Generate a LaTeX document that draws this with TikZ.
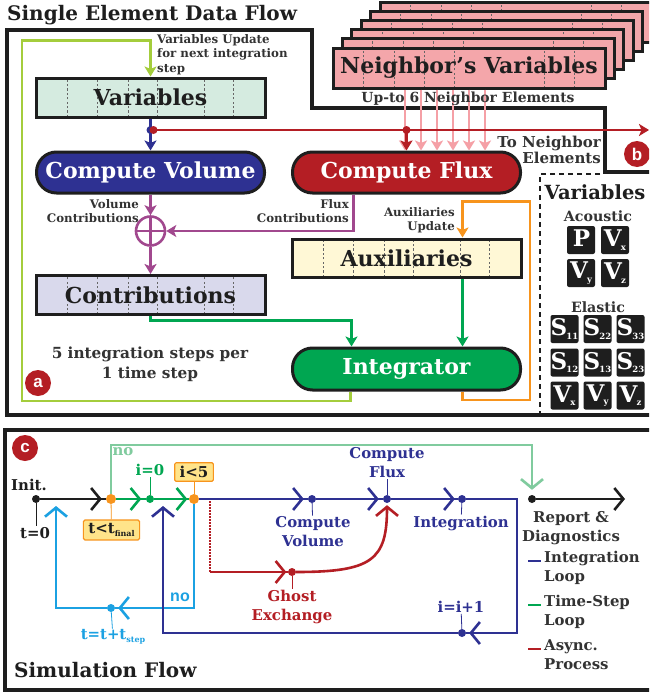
\documentclass[tikz,border=0pt]{standalone}
\usepackage{fontspec}
\setmainfont{DejaVu Serif}
\setsansfont{Liberation Sans}
\usepackage{tikz}
\usetikzlibrary{shapes,arrows,positioning,calc,decorations.markings,arrows.meta}

\definecolor{framegray}{HTML}{1E1E1E}
\definecolor{labelgray}{HTML}{333333}
\definecolor{volblue}{HTML}{2E3192}
\definecolor{fluxred}{HTML}{B41E24}
\definecolor{intgreen}{HTML}{00A651}
\definecolor{limegreen}{HTML}{A4CD3C}
\definecolor{auxorange}{HTML}{F7941D}
\definecolor{sumpurple}{HTML}{A1488E}
\definecolor{nbrpink}{HTML}{F4A6AA}
\definecolor{arrowpink}{HTML}{F5A0A6}
\definecolor{varfill}{HTML}{D5EBE0}
\definecolor{confill}{HTML}{D9D9EC}
\definecolor{auxfill}{HTML}{FFF8D6}
\definecolor{stepblue}{HTML}{1BA1E2}
\definecolor{nogreen}{HTML}{80CB9E}
\definecolor{testfill}{HTML}{FFE48A}

\newcommand{\varsym}[2]{{\fontsize{23}{23}\selectfont #1}\kern-0.8pt\raisebox{-3.5pt}{\fontsize{8.5}{8.5}\selectfont #2}}
\newcommand{\subtxt}[1]{\raisebox{-2.5pt}{\fontsize{8}{8}\selectfont #1}}

\tikzset{
  panelframe/.style={draw=framegray, line width=3.8pt},
  dividers/.style={path picture={\foreach \d in {#1}
      \draw[black!60, line width=0.6pt, dash pattern=on 2.2pt off 2.2pt]
        ([xshift=\d pt]path picture bounding box.south west) -- ([xshift=\d pt]path picture bounding box.north west);}},
  databox/.style={draw=framegray, line width=3pt, minimum width=229pt, minimum height=39pt, inner sep=0pt,
    text=framegray, font=\bfseries\fontsize{22}{22}\selectfont, dividers={31,61,92,121,168,197}},
  procbox/.style={draw=framegray, line width=3pt, rounded corners=20pt, minimum width=228pt, minimum height=41pt,
    inner sep=0pt, text=white, font=\bfseries\fontsize{22}{22}\selectfont},
  nbrbox/.style={databox, minimum width=272pt, minimum height=40pt, fill=nbrpink, dividers={30,61,91,121,211,241}},
  conn/.style={line width=2.6pt, -{Stealth[length=10pt,width=12pt,inset=2.5pt]}},
  sumnode/.style={circle, draw=sumpurple, line width=2.6pt, minimum size=29pt, inner sep=0pt,
    path picture={\draw[sumpurple, line width=2.6pt]
      (path picture bounding box.north) -- (path picture bounding box.south)
      (path picture bounding box.west) -- (path picture bounding box.east);}},
  smalltext/.style={font=\bfseries\fontsize{11.8}{14.5}\selectfont, text=labelgray, inner sep=0pt},
  badge/.style={circle, fill=fluxred, text=white, minimum size=26pt, inner sep=0pt, font=\sffamily\bfseries\fontsize{17}{17}\selectfont},
  varsq/.style={fill=framegray, rounded corners=2pt, minimum size=28pt, inner sep=0pt, text=white, font=\bfseries},
  heading/.style={font=\bfseries\fontsize{20}{20}\selectfont, text=framegray, inner sep=0pt},
  flow/.style={line width=2.6pt},
  chev/.style={decoration={markings, mark=at position -#1 with {\arrow{Straight Barb[length=9pt,width=22pt,line width=2.6pt]}}}, postaction={decorate}},
  barb/.style={-{Straight Barb[length=9pt,width=22pt,line width=2.6pt]}},
  flowdot/.style={circle, fill=#1, inner sep=0pt, minimum size=8pt},
  bigdot/.style={circle, fill=#1, inner sep=0pt, minimum size=10pt},
  labeltick/.style={line width=0.8pt},
  lbl/.style={font=\bfseries\fontsize{14.9}{19}\selectfont, align=center, inner sep=1pt},
  testbox/.style={draw=auxorange, fill=testfill, line width=1.2pt, rounded corners=1.5pt, inner xsep=5pt, inner ysep=3.5pt,
    font=\bfseries\fontsize{15}{15}\selectfont, text=framegray},
}

\begin{document}
\begin{tikzpicture}[x=1pt, y=-1pt]
  \useasboundingbox (0,0) rectangle (649,696);
  \clip (0,0) rectangle (649,696);
  \fill[white] (0,0) rectangle (649,696);

  % Single element data flow
  \node[heading, anchor=west] (title) at (7,15) {Single Element Data Flow};
  \draw[panelframe] (660,172) -- (605,172) -- (605,108) -- (312,108) -- (312,30) -- (7,30) -- (7,415) -- (660,415);

  % Neighbor stack
  \foreach \k in {5,4,...,1}
    \node[nbrbox] at (469+9.4*\k, 68-9.2*\k) {};
  \node[nbrbox] (nbr) at (469,68) {Neighbor's Variables};

  \node[databox, fill=varfill] (var) at (150.5,97.5) {Variables};
  \node[procbox, fill=volblue] (cvol) at (150.5,172.5) {Compute Volume};
  \node[procbox, fill=fluxred] (cflux) at (406.5,172.5) {Compute Flux};
  \node[sumnode] (sum) at (150.5,231) {};
  \node[databox, fill=confill] (contr) at (150.5,295) {Contributions};
  \node[databox, fill=auxfill, minimum height=38pt] (aux) at (406.5,258) {Auxiliaries};
  \node[procbox, fill=intgreen, minimum height=42pt] (integ) at (406.5,369) {Integrator};

  % neighbor inputs
  \foreach \x in {405,421,437,453,469,485}
    \draw[conn, arrowpink] (\x,0 |- nbr.south) -- (\x,0 |- cflux.north);
  \node[smalltext, font=\bfseries\fontsize{13.9}{14}\selectfont] (upto) at (468,99) {Up-to 6 Neighbor Elements};

  % split to volume and flux
  \coordinate (split) at (var.south |- 0,130);
  \coordinate (fluxtap) at (cflux.north |- split);
  \coordinate (toneighbor) at (649,130);
  \draw[conn, volblue] (var.south) -- (cvol.north);
  \fill[volblue] (split) circle (4pt);
  \draw[conn, fluxred] ([xshift=3pt]split) -- (toneighbor);
  \fill[fluxred] ([xshift=3pt]split) circle (4pt);
  \fill[fluxred] (fluxtap) circle (4pt);
  \draw[conn, fluxred] (fluxtap) -- (cflux.north);
  \node[smalltext, font=\bfseries\fontsize{15}{16.5}\selectfont, align=right, anchor=east] (tonb) at (601,150) {To Neighbor\\Elements};
  \node[badge] (bdg-b) at (637,154) {b};

  % contributions
  \draw[conn, sumpurple] (cvol.south) -- (sum.north);
  \draw[conn, sumpurple] (sum.south) -- (contr.north);
  \draw[conn, sumpurple] ([xshift=-53pt]cflux.south) |- (sum.east);
  \node[smalltext, align=right, anchor=east] (volc) at (139,211) {Volume\\Contributions};
  \node[smalltext, align=right, anchor=east] (fluxc) at (349,211) {Flux\\Contributions};

  % integration loop
  \draw[conn, limegreen] ([xshift=-56pt]integ.south) |- (22,401) |- ([yshift=36pt]var.north) -- (var.north);
  \node[smalltext, align=left, anchor=north west] (varupd) at (157,34) {Variables Update\\for next integration\\step};
  \draw[conn, auxorange] ([xshift=56pt]integ.south) |- (530,400) |- ([xshift=56pt,yshift=36pt]aux.north) -- ([xshift=56pt]aux.north);
  \node[smalltext, align=right, anchor=east] (auxupd) at (455,220) {Auxiliaries\\Update};
  \draw[conn, intgreen] (contr.south) |- ([xshift=-55pt,yshift=26pt]integ.north) -- ([xshift=-55pt]integ.north);
  \draw[conn, intgreen] ([xshift=56pt]aux.south) -- ([xshift=56pt]integ.north);

  \node[smalltext, font=\bfseries\fontsize{15.3}{20}\selectfont, align=center] (steps) at (150,364) {5 integration steps per\\1 time step};
  \node[badge] (bdg-a) at (38,383) {a};

  % Variables legend
  \draw[line width=1.6pt, dash pattern=on 5pt off 4pt, framegray] (600,174) -- (540,174) -- (540,415);
  \node[heading, font=\bfseries\fontsize{19.5}{19.5}\selectfont] (varhd) at (595,192) {Variables};
  \node[smalltext, font=\bfseries\fontsize{14.2}{14}\selectfont] (acou) at (598,216) {Acoustic};
  \node[varsq] (sq-p) at (581,240) {\varsym{P}{}};
  \node[varsq] (sq-vx) at (615,240) {\varsym{V}{x}};
  \node[varsq] (sq-vy) at (581,273) {\varsym{V}{y}};
  \node[varsq] (sq-vz) at (615,273) {\varsym{V}{z}};
  \node[smalltext, font=\bfseries\fontsize{14.2}{14}\selectfont] (elas) at (598,307) {Elastic};
  \node[varsq] (sq-s11) at (564.5,329) {\varsym{S}{11}};
  \node[varsq] (sq-s22) at (597.5,329) {\varsym{S}{22}};
  \node[varsq] (sq-s33) at (630.5,329) {\varsym{S}{33}};
  \node[varsq] (sq-s12) at (564.5,362.5) {\varsym{S}{12}};
  \node[varsq] (sq-s13) at (597.5,362.5) {\varsym{S}{13}};
  \node[varsq] (sq-s23) at (630.5,362.5) {\varsym{S}{23}};
  \node[varsq] (sq-ex) at (564.5,395.5) {\varsym{V}{x}};
  \node[varsq] (sq-ey) at (597.5,395.5) {\varsym{V}{y}};
  \node[varsq] (sq-ez) at (630.5,395.5) {\varsym{V}{z}};

  % Simulation flow
  \draw[panelframe] (5,430) rectangle (670,690);
  \node[badge] (bdg-c) at (25,448) {c};
  \node[heading, anchor=west] (simflow) at (14,670) {Simulation Flow};

  \node[flowdot=framegray] (init) at (36,499) {};
  \node[bigdot=auxorange] (tfin) at (111,499) {};
  \node[flowdot=intgreen] (izero) at (150,499) {};
  \node[bigdot=auxorange] (ilt) at (194,499) {};
  \node[flowdot=volblue] (vdot) at (312,499) {};
  \node[flowdot=volblue] (fdot) at (387,499) {};
  \node[flowdot=volblue] (idot) at (462,499) {};
  \node[flowdot=volblue] (incdot) at (462,633) {};
  \node[flowdot=stepblue] (tdot) at (111,608) {};
  \node[flowdot=fluxred] (gdot) at (292,572) {};
  \node[flowdot=framegray] (report) at (532,499) {};
  \coordinate (asyncstart) at (210,501);
  \coordinate (reportend) at (625,499);

  % time step loop
  \draw[flow, framegray, chev=4pt] (init) -- (tfin);
  \draw[flow, intgreen, chev=4.5pt] (tfin) -- (izero);
  \draw[flow, intgreen, chev=1.5pt] (izero) -- (ilt);
  \draw[flow, nogreen, barb] (tfin) |- (532,445) -- ([yshift=5pt]report.north);
  \draw[flow, framegray, barb] (report) -- (reportend);
  \draw[flow, stepblue, chev=3pt] (ilt) |- (tdot);
  \draw[flow, stepblue, barb] (tdot) -| (56,506);

  % integration loop
  \draw[flow, volblue, chev=4pt] (ilt) -- (vdot);
  \draw[flow, volblue, chev=4pt] (vdot) -- (fdot);
  \draw[flow, volblue, chev=3pt] (fdot) -- (idot);
  \draw[flow, volblue, chev=3pt] (idot) -- (517,499) |- (incdot);
  \draw[flow, volblue, barb] (incdot) -| (163,506);

  % async ghost exchange
  \draw[flow, fluxred, line width=1.4pt, dash pattern=on 1.5pt off 1.5pt] (asyncstart) -- (asyncstart |- gdot);
  \draw[flow, fluxred, chev=1.5pt] (asyncstart |- gdot) -- (gdot);
  \draw[flow, fluxred, barb] (gdot) .. controls (372,572) and (387,560) .. ([yshift=-2pt]fdot.south);

  % labels
  \node[lbl, text=framegray] (initl) at (29,485) {Init.};
  \node[lbl, text=framegray] (t0) at (35,533) {t=0};
  \draw[labeltick, framegray] (init) -- (init |- t0.north);
  \node[testbox] (tfinbox) at (111.5,530) {t<t\subtxt{final}};
  \draw[labeltick, auxorange] (tfin) -- (tfinbox);
  \node[testbox] (iltbox) at (194,472) {i<5};
  \draw[labeltick, auxorange] (ilt) -- (iltbox);
  \node[lbl, text=intgreen] (izerol) at (150,470) {i=0};
  \draw[labeltick, intgreen] (izero) -- (izerol);
  \node[lbl, text=nogreen] (notop) at (123,452) {no};
  \node[lbl, text=stepblue, font=\sffamily\bfseries\fontsize{16}{16}\selectfont] (nobot) at (180,597) {no};
  \node[lbl, text=stepblue] (tstepl) at (113,637) {t=t+t\subtxt{step}};
  \draw[labeltick, stepblue] (tdot) -- (tstepl);
  \node[lbl, text=volblue] (vlbl) at (313,532) {Compute\\Volume};
  \draw[labeltick, volblue] (vdot) -- (vlbl);
  \node[lbl, text=volblue] (flbl) at (387,463) {Compute\\Flux};
  \draw[labeltick, volblue] (fdot) -- (flbl);
  \node[lbl, text=volblue] (ilbl) at (461,523) {Integration};
  \draw[labeltick, volblue] (idot) -- (ilbl);
  \node[lbl, text=volblue] (inclbl) at (461,607) {i=i+1};
  \draw[labeltick, volblue] (incdot) -- (inclbl);
  \node[lbl, text=fluxred] (glbl) at (292,607) {Ghost\\Exchange};
  \draw[labeltick, fluxred] (gdot) -- (glbl);
  \node[lbl, text=labelgray] (replbl) at (571,528) {Report \&\\Diagnostics};

  % legend
  \node[lbl, text=labelgray, align=left, anchor=north west] (leg1) at (543,550) {Integration\\Loop};
  \node[lbl, text=labelgray, align=left, anchor=north west] (leg2) at (543,594) {Time-Step\\Loop};
  \node[lbl, text=labelgray, align=left, anchor=north west] (leg3) at (543,638) {Async.\\Process};
  \draw[flow, volblue] (528,561) -- (541,561);
  \draw[flow, intgreen] (528,605) -- (541,605);
  \draw[flow, fluxred] (528,649) -- (541,649);
\end{tikzpicture}
\end{document}
